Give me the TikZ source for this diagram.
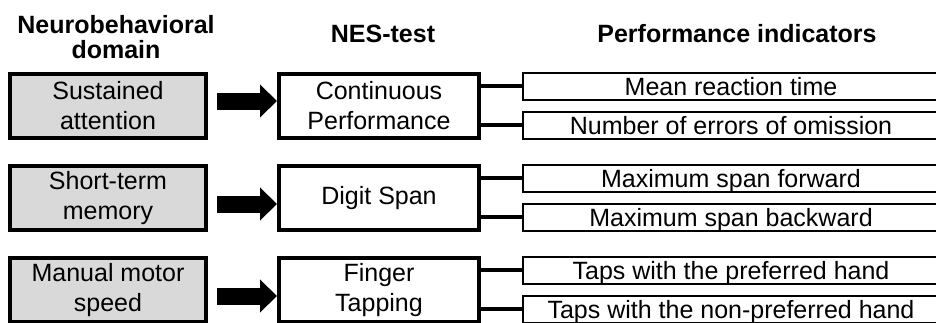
\documentclass[tikz,border=0pt]{standalone}
\usepackage{fontspec}
\setmainfont{Liberation Sans}
\usetikzlibrary{arrows.meta}

\begin{document}
\begin{tikzpicture}[
  x=1pt, y=-1pt,
  font=\fontsize{25}{30}\selectfont,
  dombox/.style={draw=black, fill=gray!30, line width=4pt, minimum width=196pt, minimum height=64pt, inner sep=0pt, align=center},
  nesbox/.style={draw=black, fill=white, line width=4pt, minimum width=200pt, minimum height=64pt, inner sep=0pt, align=center},
  indbox/.style={draw=black, line width=2pt, minimum width=416pt, minimum height=27pt, inner sep=0pt, text height=21pt, text depth=3pt},
  head/.style={font=\fontsize{25}{25}\selectfont\bfseries, align=center},
  link/.style={line width=4pt},
  bigarrow/.style={line width=17pt, -{Triangle[length=17pt,width=32pt]}, shorten <=9pt}
]
  \useasboundingbox (0,0) rectangle (936,322);
  \clip (0,0) rectangle (936,322);

  % Column headers
  \node[head] (hdom) at (116,37) {Neurobehavioral\\domain};
  \node[head] (hnes) at (383,34) {NES-test};
  \node[head] (hind) at (737,34) {Performance indicators};

  % Domains
  \node[dombox] (dom1) at (108,106) {Sustained\\attention};
  \node[dombox] (dom2) at (108,198) {Short-term\\memory};
  \node[dombox] (dom3) at (108,290) {Manual motor\\speed};

  % NES tests
  \node[nesbox] (nes1) at (379,106) {Continuous\\Performance};
  \node[nesbox] (nes2) at (379,198) {Digit Span};
  \node[nesbox] (nes3) at (379,290) {Finger\\Tapping};

  % Indicators
  \node[indbox] (ind1a) at (731,86) {Mean reaction time};
  \node[indbox] (ind1b) at (731,125) {Number of errors of omission};
  \node[indbox] (ind2a) at (731,178) {Maximum span forward};
  \node[indbox] (ind2b) at (731,217) {Maximum span backward};
  \node[indbox] (ind3a) at (731,270) {Taps with the preferred hand};
  \node[indbox] (ind3b) at (731,309) {Taps with the non-preferred hand};

  % Block arrows domain -> test
  \foreach \r/\dy in {1/5, 2/-6, 3/-6}
    \draw[bigarrow] ([yshift=\dy pt]dom\r.east) -- ([yshift=\dy pt]nes\r.west);

  % Test -> indicators
  \foreach \r in {1,2,3} {
    \draw[link] (nes\r.east |- ind\r a) -- (ind\r a.west);
    \draw[link] (nes\r.east |- ind\r b) -- (ind\r b.west);
  }
\end{tikzpicture}
\end{document}
